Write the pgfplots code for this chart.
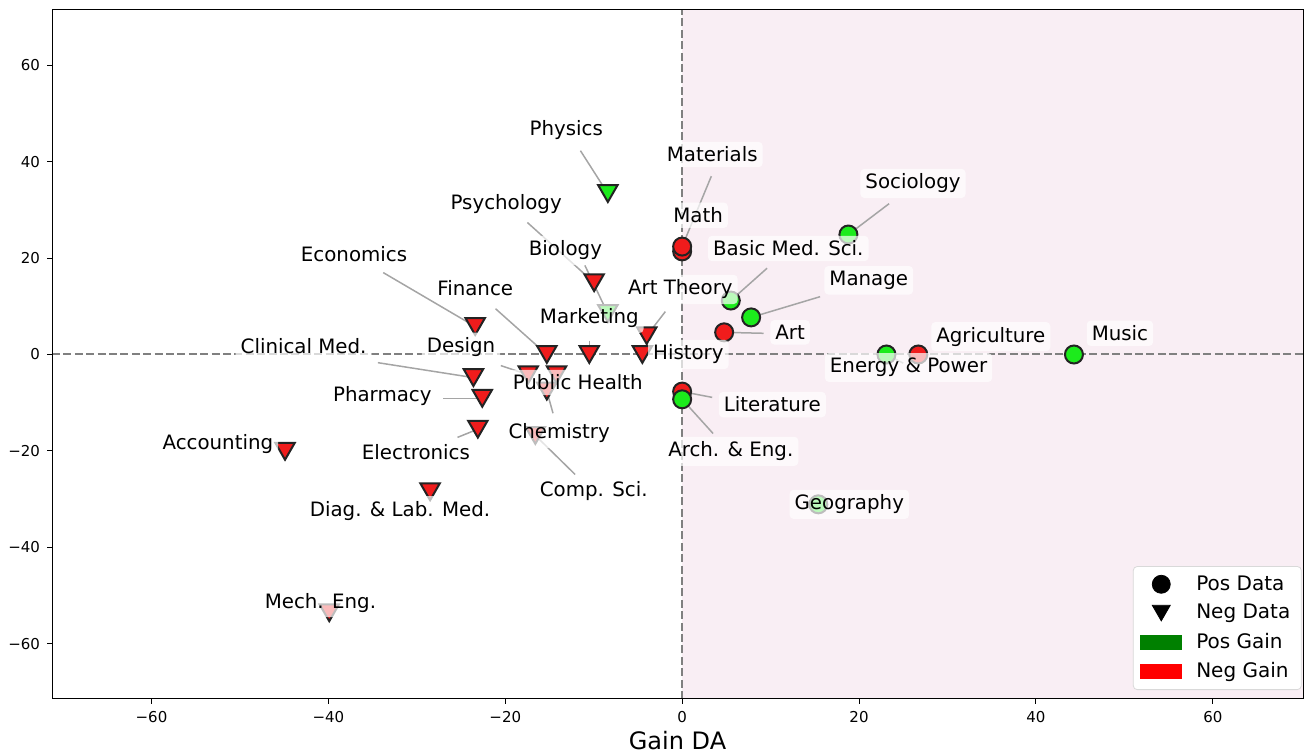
\documentclass[border=0pt]{standalone}
\usepackage{fontspec}
\setmainfont{DejaVu Sans}
\usepackage{pgfplots}
\pgfplotsset{compat=1.18}
\definecolor{pinkbg}{RGB}{249,238,244}
\definecolor{mygreen}{RGB}{28,235,28}
\definecolor{myred}{RGB}{240,28,28}
\definecolor{legendgreen}{RGB}{0,128,0}
\definecolor{edge}{RGB}{35,35,35}
\definecolor{linkgray}{RGB}{165,165,165}
\definecolor{zerogray}{RGB}{128,128,128}
\tikzset{
  lab/.style={fill=white, fill opacity=0.7, text opacity=1, rounded corners=2pt, inner sep=2.5pt, font=\fontsize{9.9}{12}\selectfont},
  lnk/.style={draw=linkgray, line width=0.75pt},
}
\begin{document}
\begin{tikzpicture}
\begin{axis}[name=ax, set layers, scale only axis, width=625.5pt, height=344.5pt,
  xmin=-71.25, xmax=70.2, ymin=-71.5, ymax=71.5,
  xtick={-60,-40,-20,0,20,40,60}, xticklabels={−60,−40,−20,0,20,40,60},
  ytick={-60,-40,-20,0,20,40,60}, yticklabels={−60,−40,−20,0,20,40,60},
  tick align=outside, xtick pos=bottom, ytick pos=left, major tick length=2.5pt,
  tick style={black, line width=0.5pt},
  axis line style={line width=0.5pt},
  tick label style={font=\fontsize{7.5}{9}\selectfont},
  xlabel={Gain DA}, xlabel style={font=\fontsize{12}{14}\selectfont, yshift=2.5pt},
  legend style={at={(0.999,0.013)}, anchor=south east, draw=black!15, fill=white, rounded corners=2pt,
    font=\fontsize{10}{12}\selectfont, row sep=1.6pt, inner xsep=3.5pt, inner ysep=2.5pt},
  legend cell align=left,
]
% background shading and zero lines
\begin{pgfonlayer}{axis background}
\fill[pinkbg] (axis cs:0,-71.5) rectangle (axis cs:70.2,71.5);
\draw[zerogray, line width=1pt, dash pattern=on 4pt off 1.7pt] (axis cs:0,-71.5) -- (axis cs:0,71.5);
\draw[zerogray, line width=1pt, dash pattern=on 4pt off 1.7pt] (axis cs:-71.25,0) -- (axis cs:70.2,0);
\end{pgfonlayer}

% connector lines
\draw[lnk] (axis cs:-11.5,42.3) -- (axis cs:-8.4,33.4);
\draw[lnk] (axis cs:3.3,37.0) -- (axis cs:0,22.4);
\draw[lnk] (axis cs:-17.5,27.4) -- (axis cs:-9.95,14.9);
\draw[lnk] (axis cs:-11.0,18.5) -- (axis cs:-8.4,8.5);
\draw[lnk] (axis cs:-33.8,17.0) -- (axis cs:-23.4,5.8);
\draw[lnk] (axis cs:-21.1,9.5) -- (axis cs:-15.3,0);
\draw[lnk] (axis cs:-10.5,2.9) -- (axis cs:-10.5,0);
\draw[lnk] (axis cs:-1.9,8.9) -- (axis cs:-4.0,3.9);
\draw[lnk] (axis cs:9.6,17.9) -- (axis cs:5.5,11.2);
\draw[lnk] (axis cs:23.4,31.3) -- (axis cs:18.8,24.9);
\draw[lnk] (axis cs:15.6,12.0) -- (axis cs:7.8,7.7);
\draw[lnk] (axis cs:9.2,4.4) -- (axis cs:4.75,4.6);
\draw[lnk] (axis cs:3.4,-8.9) -- (axis cs:0,-7.7);
\draw[lnk] (axis cs:3.5,-16.4) -- (axis cs:0,-9.3);
\draw[lnk] (axis cs:-34.4,-1.7) -- (axis cs:-23.6,-4.8);
\draw[lnk] (axis cs:-20.5,-2.3) -- (axis cs:-17.4,-4.2);
\draw[lnk] (axis cs:-14.6,-12.2) -- (axis cs:-15.3,-7.6);
\draw[lnk] (axis cs:-12.1,-24.9) -- (axis cs:-16.6,-16.8);
\draw[lnk] (axis cs:-27.0,-9.1) -- (axis cs:-22.6,-9.1);
\draw[lnk] (axis cs:-25.4,-17.2) -- (axis cs:-23.1,-15.5);
\draw[lnk] (axis cs:25.0,-1.8) -- (axis cs:23.1,0);

% Neg data (triangles), red = negative gain
\addplot[forget plot, only marks, mark=triangle*, mark size=5.6pt,
  mark options={yshift=1.4pt, rotate=180, fill=myred, draw=edge, line width=1pt}]
  coordinates {
  (-9.95,14.9) (-23.4,5.8) (-4.0,3.9) (-15.3,0) (-10.5,0) (-4.5,0)
  (-17.4,-4.2) (-14.2,-4.2) (-15.3,-7.6) (-16.6,-16.8) (-23.6,-4.8)
  (-22.6,-9.1) (-23.1,-15.5) (-44.9,-20.1) (-28.5,-28.5) (-39.9,-53.6)
  };
% Neg data, green = positive gain
\addplot[forget plot, only marks, mark=triangle*, mark size=5.6pt,
  mark options={yshift=1.4pt, rotate=180, fill=mygreen, draw=edge, line width=1pt}]
  coordinates { (-8.4,33.4) (-8.4,8.5) };
% Pos data (circles), red
\addplot[forget plot, only marks, mark=*, mark size=4.5pt,
  mark options={fill=myred, draw=edge, line width=1pt}]
  coordinates { (0,21.4) (0,22.4) (4.75,4.6) (0,-7.7) (26.7,0) };
% Pos data (circles), green
\addplot[forget plot, only marks, mark=*, mark size=4.5pt,
  mark options={fill=mygreen, draw=edge, line width=1pt}]
  coordinates { (5.5,11.2) (7.8,7.7) (18.8,24.9) (0,-9.3) (23.1,0) (44.3,0) (15.4,-31.1) };

% labels
\begin{pgfonlayer}{axis foreground}
\node[lab] at (axis cs:-13.1,46.5) {Physics};
\node[lab] at (axis cs:3.4,41.5) {Materials};
\node[lab] at (axis cs:1.8,28.9) {Math};
\node[lab] at (axis cs:-19.9,31.3) {Psychology};
\node[lab] at (axis cs:-13.2,21.6) {Biology};
\node[lab] at (axis cs:-37.1,20.8) {Economics};
\node[lab] at (axis cs:-23.4,13.7) {Finance};
\node[lab] at (axis cs:-10.5,7.5) {Marketing};
\node[lab] at (axis cs:-0.2,13.5) {Art Theory};
\node[lab] at (axis cs:12.0,22.0) {Basic Med. Sci.};
\node[lab] at (axis cs:26.1,35.5) {Sociology};
\node[lab] at (axis cs:21.1,15.4) {Manage};
\node[lab] at (axis cs:12.2,4.6) {Art};
\node[lab] at (axis cs:34.9,3.7) {Agriculture};
\node[lab] at (axis cs:49.5,4.4) {Music};
\node[lab] at (axis cs:25.6,-2.7) {Energy \& Power};
\node[lab] at (axis cs:0.7,0) {History};
\node[lab] at (axis cs:10.2,-10.4) {Literature};
\node[lab] at (axis cs:5.5,-20.1) {Arch. \& Eng.};
\node[lab] at (axis cs:18.9,-31.1) {Geography};
\node[lab] at (axis cs:-42.8,1.7) {Clinical Med.};
\node[lab] at (axis cs:-25.0,1.5) {Design};
\node[lab] at (axis cs:-11.8,-5.8) {Public Health};
\node[lab] at (axis cs:-13.9,-16.4) {Chemistry};
\node[lab] at (axis cs:-10.0,-28.4) {Comp. Sci.};
\node[lab] at (axis cs:-33.9,-8.7) {Pharmacy};
\node[lab] at (axis cs:-30.1,-20.3) {Electronics};
\node[lab] at (axis cs:-52.5,-18.5) {Accounting};
\node[lab] at (axis cs:-31.9,-32.4) {Diag. \& Lab. Med.};
\node[lab] at (axis cs:-40.9,-51.5) {Mech. Eng.};
\end{pgfonlayer}

% legend
\addlegendimage{legend image code/.code={\draw[only marks, mark=*, mark size=4.5pt, black] plot coordinates {(10.5pt,0pt)}; \path[draw=none, fill=none] (0pt,0pt) -- (26pt,0pt);}}
\addlegendentry{Pos Data}
\addlegendimage{legend image code/.code={\draw[only marks, mark=triangle*, mark size=5.2pt, mark options={yshift=1.3pt, rotate=180}, black] plot coordinates {(10.5pt,0pt)}; \path[draw=none, fill=none] (0pt,0pt) -- (26pt,0pt);}}
\addlegendentry{Neg Data}
\addlegendimage{legend image code/.code={\fill[legendgreen, sharp corners, draw=none] (0pt,-3.75pt) rectangle (21pt,3.75pt); \path[draw=none, fill=none] (0pt,0pt) -- (26pt,0pt);}}
\addlegendentry{Pos Gain}
\addlegendimage{legend image code/.code={\fill[red, sharp corners, draw=none] (0pt,-3.75pt) rectangle (21pt,3.75pt); \path[draw=none, fill=none] (0pt,0pt) -- (26pt,0pt);}}
\addlegendentry{Neg Gain}
\end{axis}
\pgfresetboundingbox
\path[use as bounding box] ([xshift=-26pt,yshift=-27pt]ax.south west) rectangle ([xshift=0.5pt,yshift=5pt]ax.north east);
\end{tikzpicture}
\end{document}
